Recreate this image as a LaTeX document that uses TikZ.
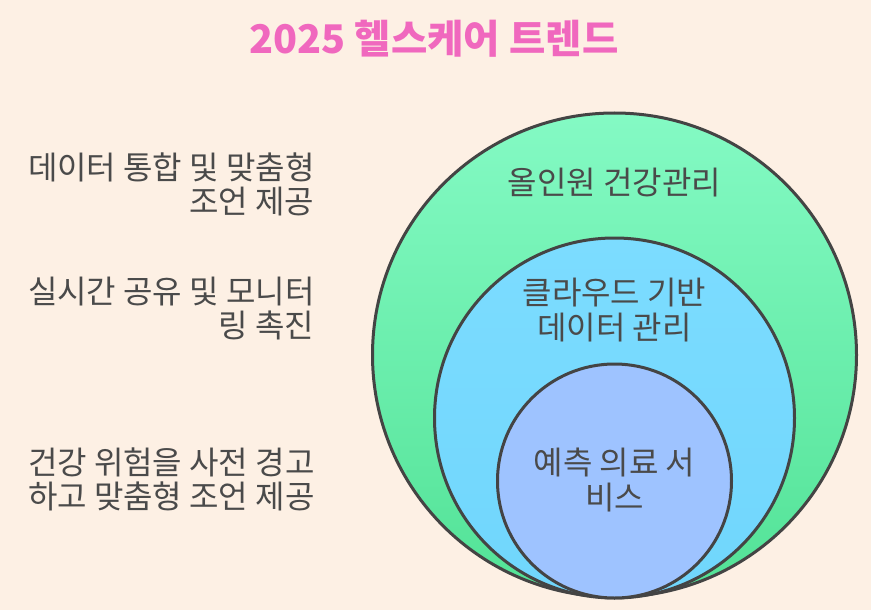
\documentclass[tikz,border=0pt]{standalone}
\usepackage{fontspec}
\setmainfont{Noto Sans CJK KR}
\usepackage{xcolor}
\definecolor{hcbg}{RGB}{253,240,228}
\definecolor{hcpink}{RGB}{240,104,190}
\definecolor{hctext}{RGB}{74,74,74}
\definecolor{hcring}{RGB}{68,68,68}
\definecolor{hcmintlight}{RGB}{132,250,196}
\definecolor{hcmintdark}{RGB}{82,226,150}
\definecolor{hcsky}{RGB}{124,220,255}
\definecolor{hcskydark}{RGB}{112,214,252}
\definecolor{hcperiwinkle}{RGB}{158,195,255}

\begin{document}
\begin{tikzpicture}[x=1pt,y=-1pt,
  ring/.style={circle, draw=hcring, line width=3pt, inner sep=0pt},
  ringtext/.style={text=hctext, align=center, font=\fontsize{32}{35}\selectfont},
  sidetext/.style={text=hctext, align=right, anchor=east, font=\fontsize{32}{34}\selectfont}]
% Background
\fill[hcbg] (0,0) rectangle (871,610);

% Title
\node[text=hcpink, font=\fontsize{39.5}{44}\selectfont\bfseries] (title) at (434,39) {2025 헬스케어 트렌드};

% Nested circles
\node[ring, top color=hcmintlight, bottom color=hcmintdark, minimum size=484pt] (outer) at (614.5,355) {};
\node[ring, top color=hcsky, bottom color=hcskydark, minimum size=360pt] (middle) at (614.5,418) {};
\node[ring, fill=hcperiwinkle, minimum size=234pt] (inner) at (614.5,481) {};

% Circle labels
\node[ringtext] (outerlabel) at (614.5,183) {올인원 건강관리};
\node[ringtext] (middlelabel) at (614.5,310) {클라우드 기반\\데이터 관리};
\node[ringtext] (innerlabel) at (614.5,480) {예측 의료 서\\비스};

% Side notes
\node[sidetext] (note1) at (318,184) {데이터 통합 및 맞춤형\\조언 제공};
\node[sidetext] (note2) at (318,309) {실시간 공유 및 모니터\\링 촉진};
\node[sidetext] (note3) at (318,479) {건강 위험을 사전 경고\\하고 맞춤형 조언 제공};
\end{tikzpicture}
\end{document}
